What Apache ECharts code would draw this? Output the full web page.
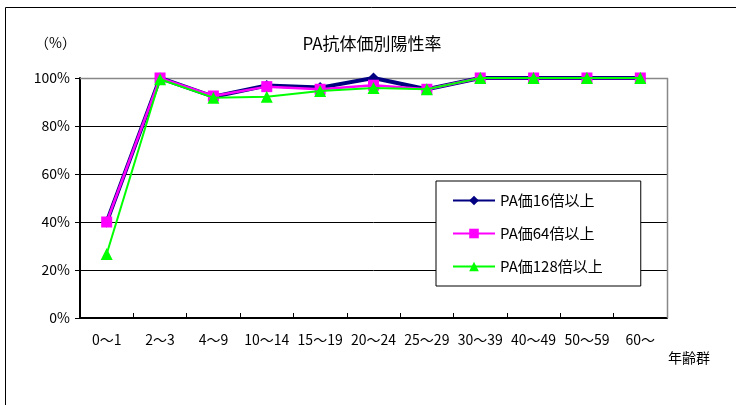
<!DOCTYPE html>
<html>
<head>
<meta charset="utf-8">
<script src="https://cdn.jsdelivr.net/npm/echarts@6/dist/echarts.min.js"></script>
<style>
html,body{margin:0;padding:0;background:#fff;}
#chart{width:736px;height:405px;}
</style>
</head>
<body>
<div id="chart"></div>
<script>
// Age groups (x axis)
const ageGroups = ['0～1','2～3','4～9','10～14','15～19','20～24','25～29','30～39','40～49','50～59','60～'];
// Positive rate (%) by PA titre threshold
const pa16 = [40, 100, 92.2, 96.9, 96, 100, 95.3, 100, 100, 100, 100];
const pa64 = [40, 100, 92.5, 96.4, 95.3, 97, 95.3, 100, 100, 100, 100];
const pa128 = [26.7, 99.5, 91.8, 92.2, 94.6, 95.8, 95.3, 100, 100, 100, 100];
const yTicks = [0, 20, 40, 60, 80, 100];

const font = '"Noto Sans CJK JP", "Liberation Sans", sans-serif';
const chart = echarts.init(document.getElementById('chart'));

chart.setOption({
  animation: false,
  backgroundColor: '#fff',
  textStyle: { fontFamily: font },
  title: {
    text: 'PA抗体価別陽性率',
    left: 367, top: 30, textAlign: 'center',
    textStyle: { fontSize: 17, fontWeight: 'normal', color: '#000', fontFamily: font }
  },
  graphic: [
    { type: 'rect', shape: { x: 5.5, y: 7.5, width: 740, height: 410 },
      style: { fill: 'none', stroke: '#000', lineWidth: 1 }, silent: true },
    { type: 'text', left: 35, top: 36,
      style: { text: '（%）', fontSize: 14, fill: '#000', fontFamily: font } },
    { type: 'text', left: 668, top: 351,
      style: { text: '年齢群', fontSize: 14, fill: '#000', fontFamily: font } },
    // right and top edges of the plot frame
    { type: 'polyline', shape: { points: [[80, 78.5], [667.5, 78.5], [667.5, 318]] },
      style: { stroke: '#888', lineWidth: 1.5, fill: 'none' }, silent: true, z: 1 }
  ],
  legend: {
    orient: 'vertical',
    left: 436, top: 181,
    padding: [12, 38, 12, 16],
    itemGap: 18,
    itemWidth: 42, itemHeight: 12,
    backgroundColor: '#fff',
    borderColor: '#000', borderWidth: 1,
    textStyle: { fontSize: 15, color: '#000', fontFamily: font },
    data: ['PA価16倍以上', 'PA価64倍以上', 'PA価128倍以上']
  },
  grid: { left: 80, right: 69, top: 78, bottom: 87, containLabel: false },
  xAxis: {
    type: 'category',
    data: ageGroups,
    boundaryGap: true,
    axisLine: { lineStyle: { color: '#000', width: 2 } },
    axisTick: { show: true, inside: true, length: 5, lineStyle: { color: '#000', width: 1 } },
    axisLabel: { color: '#000', fontSize: 14, margin: 15, interval: 0, fontFamily: font },
    splitLine: { show: false }
  },
  yAxis: {
    type: 'value',
    min: 0, max: 100, interval: 20,
    axisLine: { show: true, lineStyle: { color: '#000', width: 2 } },
    axisTick: { show: true, length: 5, lineStyle: { color: '#000' } },
    axisLabel: { color: '#000', fontSize: 14, margin: 10, fontFamily: font,
      formatter: v => yTicks.includes(v) ? v + '%' : '' },
    splitLine: { lineStyle: { color: '#000', width: 1 } }
  },
  series: [
    { name: 'PA価16倍以上', type: 'line', data: pa16,
      symbol: 'diamond', symbolSize: 11,
      lineStyle: { color: '#000080', width: 4 },
      itemStyle: { color: '#000080' }, z: 3 },
    { name: 'PA価64倍以上', type: 'line', data: pa64,
      symbol: 'rect', symbolSize: 11,
      lineStyle: { color: '#ff00ff', width: 2.5 },
      itemStyle: { color: '#ff00ff' }, z: 4 },
    { name: 'PA価128倍以上', type: 'line', data: pa128,
      symbol: 'triangle', symbolSize: 12,
      lineStyle: { color: '#00ff00', width: 2 },
      itemStyle: { color: '#00ff00' }, z: 5 }
  ]
});
</script>
</body>
</html>
